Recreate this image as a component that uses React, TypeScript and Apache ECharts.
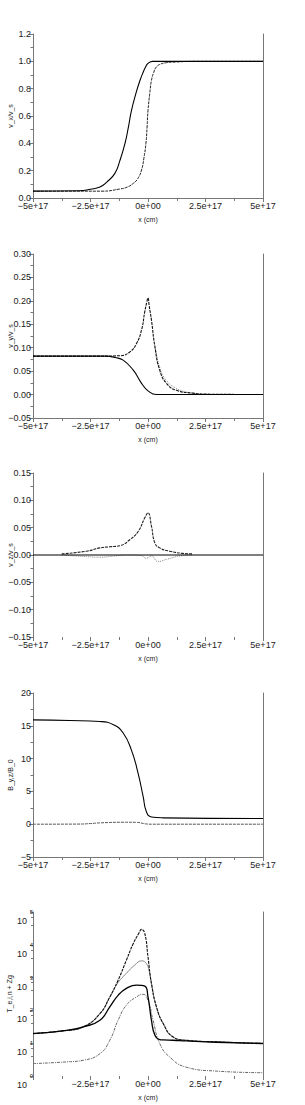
import React, { useEffect, useRef } from "react";
import * as echarts from "echarts";

// x positions are in units of 1e17 cm
const X_TICKS = [-5, -2.5, 0, 2.5, 5];

// Panel 1: v_x / v_s
const vxA_x = [-5, -3, -2.5, -2.09, -1.8, -1.44, -1.22, -1.0, -0.85, -0.72, -0.5, -0.35, -0.21, -0.1, 0, 0.2, 0.5, 5];
const vxA_y = [0.05, 0.053, 0.064, 0.08, 0.115, 0.18, 0.275, 0.4, 0.52, 0.64, 0.78, 0.86, 0.92, 0.96, 0.985, 1.0, 1.0, 1.0];
const vxB_x = [-5, -2, -1.22, -0.9, -0.64, -0.45, -0.28, -0.18, -0.09, -0.04, 0, 0.08, 0.15, 0.25, 0.37, 0.55, 0.8, 1.2, 2, 5];
const vxB_y = [0.05, 0.05, 0.066, 0.08, 0.107, 0.14, 0.205, 0.29, 0.4, 0.52, 0.64, 0.77, 0.86, 0.92, 0.96, 0.98, 0.99, 0.995, 1.0, 1.0];

// Panel 2: v_y / v_s
const vyA_x = [-5, -2.1, -1.22, -0.79, -0.5, -0.28, -0.14, -0.05, 0, 0.05, 0.15, 0.3, 0.51, 0.8, 1.24, 1.96, 2.5, 5];
const vyA_y = [0.082, 0.082, 0.083, 0.091, 0.109, 0.138, 0.177, 0.198, 0.206, 0.19, 0.159, 0.102, 0.052, 0.024, 0.009, 0.003, 0.001, 0];
const vyB_x = [-5, -1.8, -1.44, -1.08, -0.64, -0.28, 0, 0.37, 5];
const vyB_y = [0.082, 0.082, 0.079, 0.0735, 0.052, 0.024, 0.008, 0, 0];
const vyC_x = [0.3, 0.51, 0.8, 1.24, 1.7, 2.2];
const vyC_y = [0.105, 0.058, 0.03, 0.013, 0.005, 0.001];

// Panel 3: v_z / v_s
const vz0_x = [-5, 5];
const vz0_y = [0, 0];
const vzA_x = [-3.75, -2.67, -2.09, -1.66, -1.22, -0.79, -0.43, -0.14, 0, 0.15, 0.3, 0.51, 0.94, 1.5, 1.96];
const vzA_y = [0.002, 0.007, 0.013, 0.015, 0.017, 0.028, 0.043, 0.068, 0.077, 0.053, 0.022, 0.013, 0.007, 0.003, 0.002];
const vzB_x = [-3.75, -2.67, -2.09, -1.5, -0.9, -0.3, -0.08, 0.15, 0.44, 0.8, 1.5, 1.96];
const vzB_y = [0, -0.003, -0.004, -0.002, 0, -0.001, -0.006, -0.002, -0.012, -0.008, -0.001, 0];

// Panel 4: B_y,z / B_0
const byA_x = [-5, -3.4, -2.09, -1.5, -1.08, -0.72, -0.43, -0.21, -0.07, 0.15, 0.66, 5];
const byA_y = [15.9, 15.8, 15.65, 15.15, 13.9, 11.3, 7.75, 4.2, 1.9, 1.1, 0.97, 0.87];
const bzB_x = [-5, -3, -2.5, -2.09, -1.08, -0.5, -0.1, 0.2, 5];
const bzB_y = [0, 0.02, 0.1, 0.2, 0.3, 0.28, 0.05, 0, 0];

// Panel 5: temperatures (log scale)
const tA_x = [-5, -3.54, -2.81, -2.09, -1.66, -1.3, -0.94, -0.64, -0.4, -0.28, -0.14, 0, 0.15, 0.37, 0.66, 1.09, 1.66, 2.97, 5];
const tA_y = [19.7, 24.5, 31.6, 79.4, 257, 832, 3390, 10960, 22390, 29510, 22390, 4266, 661, 126, 39.8, 15.5, 12.3, 11.0, 9.8];
const tB_x = [-5, -3.54, -2.81, -2.09, -1.66, -1.3, -0.94, -0.58, -0.28, -0.07, 0.05, 0.15, 0.37, 0.66, 1.09, 1.66, 2.97, 5];
const tB_y = [19.7, 24.5, 31.6, 79.4, 257, 708, 1350, 2400, 3240, 2690, 1585, 661, 126, 39.8, 15.5, 12.3, 11.0, 9.8];
const tC_x = [-5, -3.54, -2.81, -2.09, -1.66, -1.3, -0.94, -0.5, -0.14, 0, 0.15, 0.3, 0.51, 0.66, 1.09, 1.66, 2.97, 5];
const tC_y = [19.7, 24.5, 31.6, 50.1, 128.8, 288.4, 467.7, 588.8, 549.5, 257, 50.1, 17.4, 12.9, 12.6, 12.3, 11.7, 10.7, 9.8];
const tD_x = [-5, -3.54, -2.81, -2.09, -1.66, -1.3, -0.94, -0.5, -0.21, 0, 0.22, 0.51, 0.94, 1.66, 2.97, 5];
const tD_y = [2.39, 2.69, 3.02, 4.79, 12.3, 50.1, 144.5, 257, 309, 204, 50.1, 9.77, 3.8, 1.86, 1.41, 1.26];

const Y_NAMES = ["v_x/v_s", "v_y/v_s", "v_z/v_s", "B_y,z/B_0", "T_e,i,n + Zg"];
const GRID_TOPS = [34, 254, 473, 693, 912];

const AXIS_COLOR = "#777";
const TEXT_COLOR = "#222";
const FONT = "Liberation Sans, Arial, sans-serif";

const pts = (xs: number[], ys: number[]) => xs.map((x, i) => [x, ys[i]]);

function fmtX(v: number, hideFirst: boolean) {
  if (hideFirst && v === X_TICKS[0]) return "";
  if (Math.abs(v) < 1e-9) return "0e+00";
  const s = Math.abs(v) + "e+17";
  return v < 0 ? "\u2212" + s : s;
}

function fmtY(v: number, d: number) {
  const f = Math.pow(10, d);
  const r = Math.round(v * f) / f;
  const s = Math.abs(r).toFixed(d);
  return r < 0 ? "\u2212" + s : s;
}

export default function App() {
  const ref = useRef<HTMLDivElement>(null);
  useEffect(() => {
    if (!ref.current) return;
    const chart = echarts.init(ref.current, undefined, { renderer: "svg" });

    const grids = GRID_TOPS.map((t) => ({
      left: 33,
      width: 230,
      top: t,
      height: 164,
      containLabel: false,
      outerBoundsMode: "none",
    }));

    const xAxes = GRID_TOPS.map((_, i) => ({
      type: "value",
      gridIndex: i,
      min: -5,
      max: 5,
      interval: 2.5,
      name: "x (cm)",
      nameLocation: "middle",
      nameGap: 18,
      nameMoveOverlap: false,
      nameTextStyle: { fontSize: 7, color: TEXT_COLOR, fontFamily: FONT },
      axisLine: { show: !(i === 2 || i === 4), onZero: false, lineStyle: { color: AXIS_COLOR, width: 1 } },
      axisTick: { show: true, length: 4, lineStyle: { color: AXIS_COLOR } },
      minorTick: { show: true, splitNumber: 2, length: 3, lineStyle: { color: AXIS_COLOR } },
      splitLine: { show: false },
      axisLabel: {
        fontSize: 9,
        color: TEXT_COLOR,
        fontFamily: FONT,
        margin: 3,
        hideOverlap: false,
        formatter: (v: number) => fmtX(v, i === 4),
      },
    }));

    const yCfg = [
      { min: 0, max: 1.2, interval: 0.2, d: 1 },
      { min: -0.05, max: 0.3, interval: 0.05, d: 2 },
      { min: -0.15, max: 0.15, interval: 0.05, d: 2 },
      { min: -5, max: 20, interval: 5, d: 0 },
    ];

    const nameBase = {
      nameLocation: "middle",
      nameRotate: 90,
      nameGap: 19,
      nameMoveOverlap: false,
      nameTextStyle: { fontSize: 7, color: TEXT_COLOR, fontFamily: FONT },
    };

    const leftY: any[] = yCfg.map((c, i) => ({
      type: "value",
      gridIndex: i,
      min: c.min,
      max: c.max,
      interval: c.interval,
      name: Y_NAMES[i],
      ...nameBase,
      axisLine: { show: true, onZero: false, lineStyle: { color: AXIS_COLOR, width: 1 } },
      axisTick: { show: true, length: 4, lineStyle: { color: AXIS_COLOR } },
      minorTick: { show: true, splitNumber: 2, length: 2.5, lineStyle: { color: AXIS_COLOR } },
      splitLine: { show: false },
      axisLabel: {
        fontSize: 9,
        color: TEXT_COLOR,
        fontFamily: FONT,
        margin: 2,
        formatter: (v: number) => fmtY(v, c.d),
      },
    }));

    leftY.push({
      type: "log",
      logBase: 10,
      gridIndex: 4,
      min: 1,
      max: 100000,
      name: Y_NAMES[4],
      ...nameBase,
      nameGap: 20,
      axisLine: { show: true, onZero: false, lineStyle: { color: AXIS_COLOR, width: 1 } },
      axisTick: { show: true, length: 3, lineStyle: { color: AXIS_COLOR } },
      minorTick: { show: true, splitNumber: 3, length: 2, lineStyle: { color: AXIS_COLOR } },
      splitLine: { show: false },
      axisLabel: {
        margin: 0,
        padding: [10, 0, 0, 0],
        align: "right",
        formatter: (v: number) => {
          const e = Math.round(Math.log10(v));
          return `{e|${e}}\n{b|10}`;
        },
        rich: {
          e: { fontSize: 6, lineHeight: 8, color: TEXT_COLOR, fontFamily: FONT, align: "right" },
          b: { fontSize: 9, lineHeight: 10, color: TEXT_COLOR, fontFamily: FONT, align: "right", padding: [0, 6, 0, 0] },
        },
      },
    });

    const rightY = GRID_TOPS.map((_, i) => ({
      type: "value",
      gridIndex: i,
      position: "right",
      min: 0,
      max: 1,
      axisLine: { show: true, onZero: false, lineStyle: { color: AXIS_COLOR, width: 1 } },
      axisTick: { show: false },
      axisLabel: { show: false },
      splitLine: { show: false },
    }));

    const line = (
      gi: number,
      xs: number[],
      ys: number[],
      color: string,
      type: any,
      width = 1,
      z = 2
    ) => ({
      type: "line",
      xAxisIndex: gi,
      yAxisIndex: gi,
      data: pts(xs, ys),
      showSymbol: false,
      smooth: 0.5,
      z,
      lineStyle: { color, width, type },
    });

    const series = [
      line(0, vxB_x, vxB_y, "#222", [3, 1]),
      line(0, vxA_x, vxA_y, "#000", "solid", 1.1),
      line(1, vyC_x, vyC_y, "#888", [1, 1]),
      line(1, vyA_x, vyA_y, "#111", [3, 1], 1.1),
      line(1, vyB_x, vyB_y, "#000", "solid", 1.1),
      line(2, vzB_x, vzB_y, "#888", [1, 1]),
      line(2, vzA_x, vzA_y, "#222", [3, 1], 1.1),
      line(2, vz0_x, vz0_y, "#000", "solid", 1.2, 3),
      line(3, bzB_x, bzB_y, "#555", [3, 1]),
      line(3, byA_x, byA_y, "#000", "solid", 1.1),
      line(4, tD_x, tD_y, "#666", [3, 1, 1, 1]),
      line(4, tB_x, tB_y, "#888", "solid"),
      line(4, tA_x, tA_y, "#111", [3, 1], 1.1),
      line(4, tC_x, tC_y, "#000", "solid", 1.3),
    ];

    chart.setOption({
      animation: false,
      backgroundColor: "#fff",
      textStyle: { fontFamily: FONT },
      grid: grids,
      xAxis: xAxes,
      yAxis: [...leftY, ...rightY],
      series,
    });
    return () => chart.dispose();
  }, []);

  return (
    <div
      ref={ref}
      style={{ position: "absolute", left: 0, top: 0, width: 305, height: 1105, background: "#fff" }}
    />
  );
}
